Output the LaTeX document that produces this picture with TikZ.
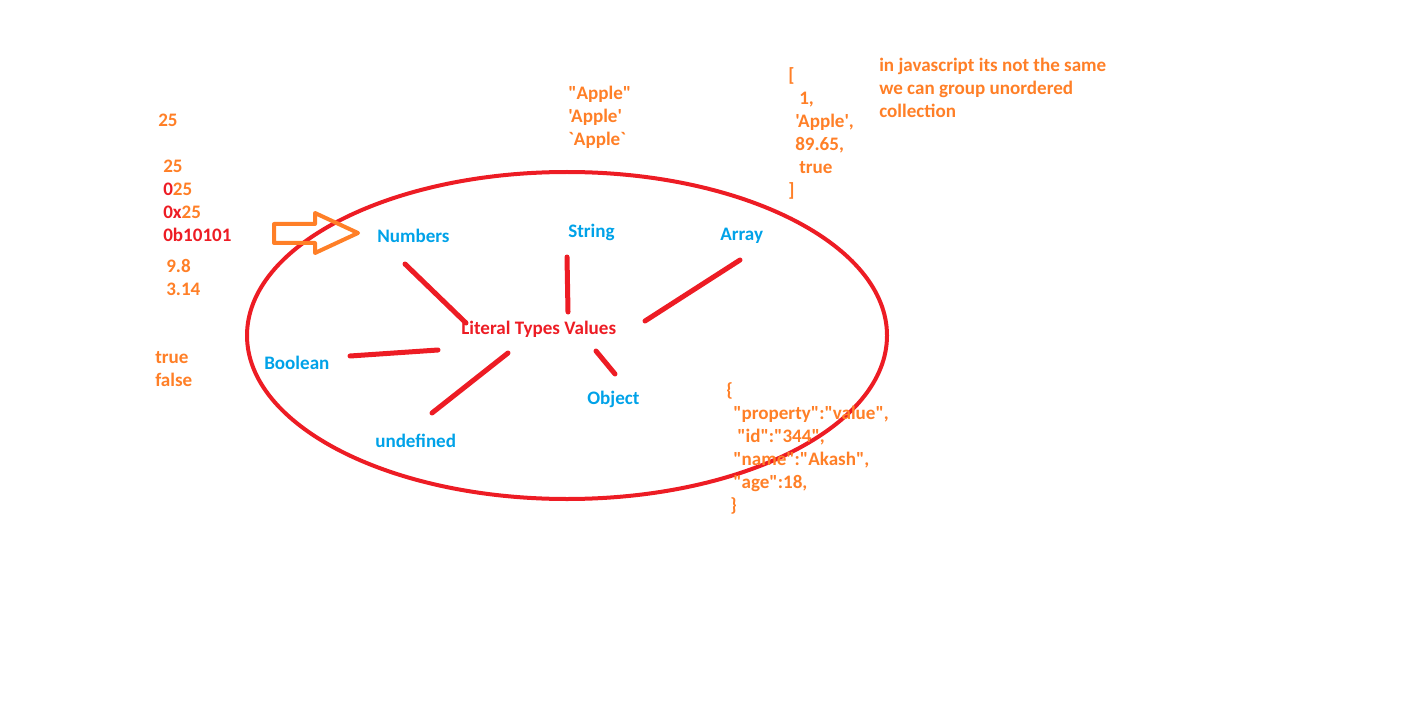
\documentclass[tikz,border=0pt]{standalone}
\usepackage{fontspec}
\newfontfamily\paintfont{Carlito}
\definecolor{paintorange}{HTML}{FF7F27}
\definecolor{paintred}{HTML}{ED1C24}
\definecolor{paintblue}{HTML}{00A2E8}
\tikzset{
  txt/.style={font=\paintfont\bfseries\fontsize{14.3}{17}\selectfont, anchor=base west, inner sep=0pt, yshift=-1.1pt},
  val/.style={txt, text=paintorange},
  kind/.style={txt, text=paintblue},
  stroke/.style={paintred, line width=3.75pt, line cap=round},
}
\begin{document}
\begin{tikzpicture}[x=0.75pt,y=-0.75pt]
        \useasboundingbox (0,0) rectangle (1412,720);
        % ellipse round the types
        \draw[paintred, line width=3pt] (567,335.5) ellipse [x radius=320, y radius=163.5];
        % types
        \node[txt, text=paintred] (lit) at (461,333) {Literal Types Values};
        \node[kind] (num) at (377,241) {Numbers};
        \node[kind] (str) at (568,236) {String};
        \node[kind] (arr) at (720,239) {Array};
        \node[kind] (bool) at (264,368) {Boolean};
        \node[kind] (undef) at (375,446) {undefined};
        \node[kind] (obj) at (587,403) {Object};
        % spokes
        \coordinate (n1) at (405,264); \coordinate (n2) at (466,323);
        \coordinate (s1) at (567,257); \coordinate (s2) at (568,312);
        \coordinate (a1) at (740,260); \coordinate (a2) at (645,321);
        \coordinate (b1) at (350,356); \coordinate (b2) at (438,350);
        \coordinate (u1) at (432,413); \coordinate (u2) at (508,353);
        \coordinate (o1) at (615,374); \coordinate (o2) at (596,351);
        \foreach \p in {n,s,a,b,u,o}
        \draw[stroke] (\p1) -- (\p2);
        % number values
        \node[val] (n0) at (158,125) {25};
        \node[val] (nd) at (163,171) {25};
        \node[val] (no) at (163,194) {\textcolor{paintred}{0}25};
        \node[val] (nx) at (163,217) {\textcolor{paintred}{0x}25};
        \node[txt, text=paintred] (nb) at (163,240) {0b10101};
        \node[val] (nf1) at (166,271) {9.8};
        \node[val] (nf2) at (166,294) {3.14};
        \node[val] (bt) at (155,362) {true};
        \node[val] (bf) at (155,385) {false};
        % block arrow
        \draw[paintorange, line width=3pt, line join=round] (274,224) -- (315,224) -- (315,213) -- (358,233)
        -- (315,253) -- (315,243) -- (274,243) -- cycle;
        % string values
        \foreach \t [count=\i] in {"Apple", 'Apple', `Apple`}
        \node[val] (sv\i) at (568,75+23*\i) {\t};
        % array values
        \foreach \x/\t [count=\i] in {788/[, 799/{1,}, 795/{'Apple',}, 795/{89.65,}, 799/true, 788/]}
        \node[val] (av\i) at (\x,57+23*\i) {\t};
        \foreach \t [count=\i] in {in javascript its not the same, we can group unordered, collection}
        \node[val] (note\i) at (879,47+23*\i) {\t};
        % object values
        \foreach \x/\t [count=\i] in {726/\{, 733/{"property":"value",}, 737/{"id":"344",}, 733/{"name":"Akash",}, 733/{"age":18,}, 730/\}}
        \node[val] (ov\i) at (\x,372+23*\i) {\t};
\end{tikzpicture}
\end{document}
